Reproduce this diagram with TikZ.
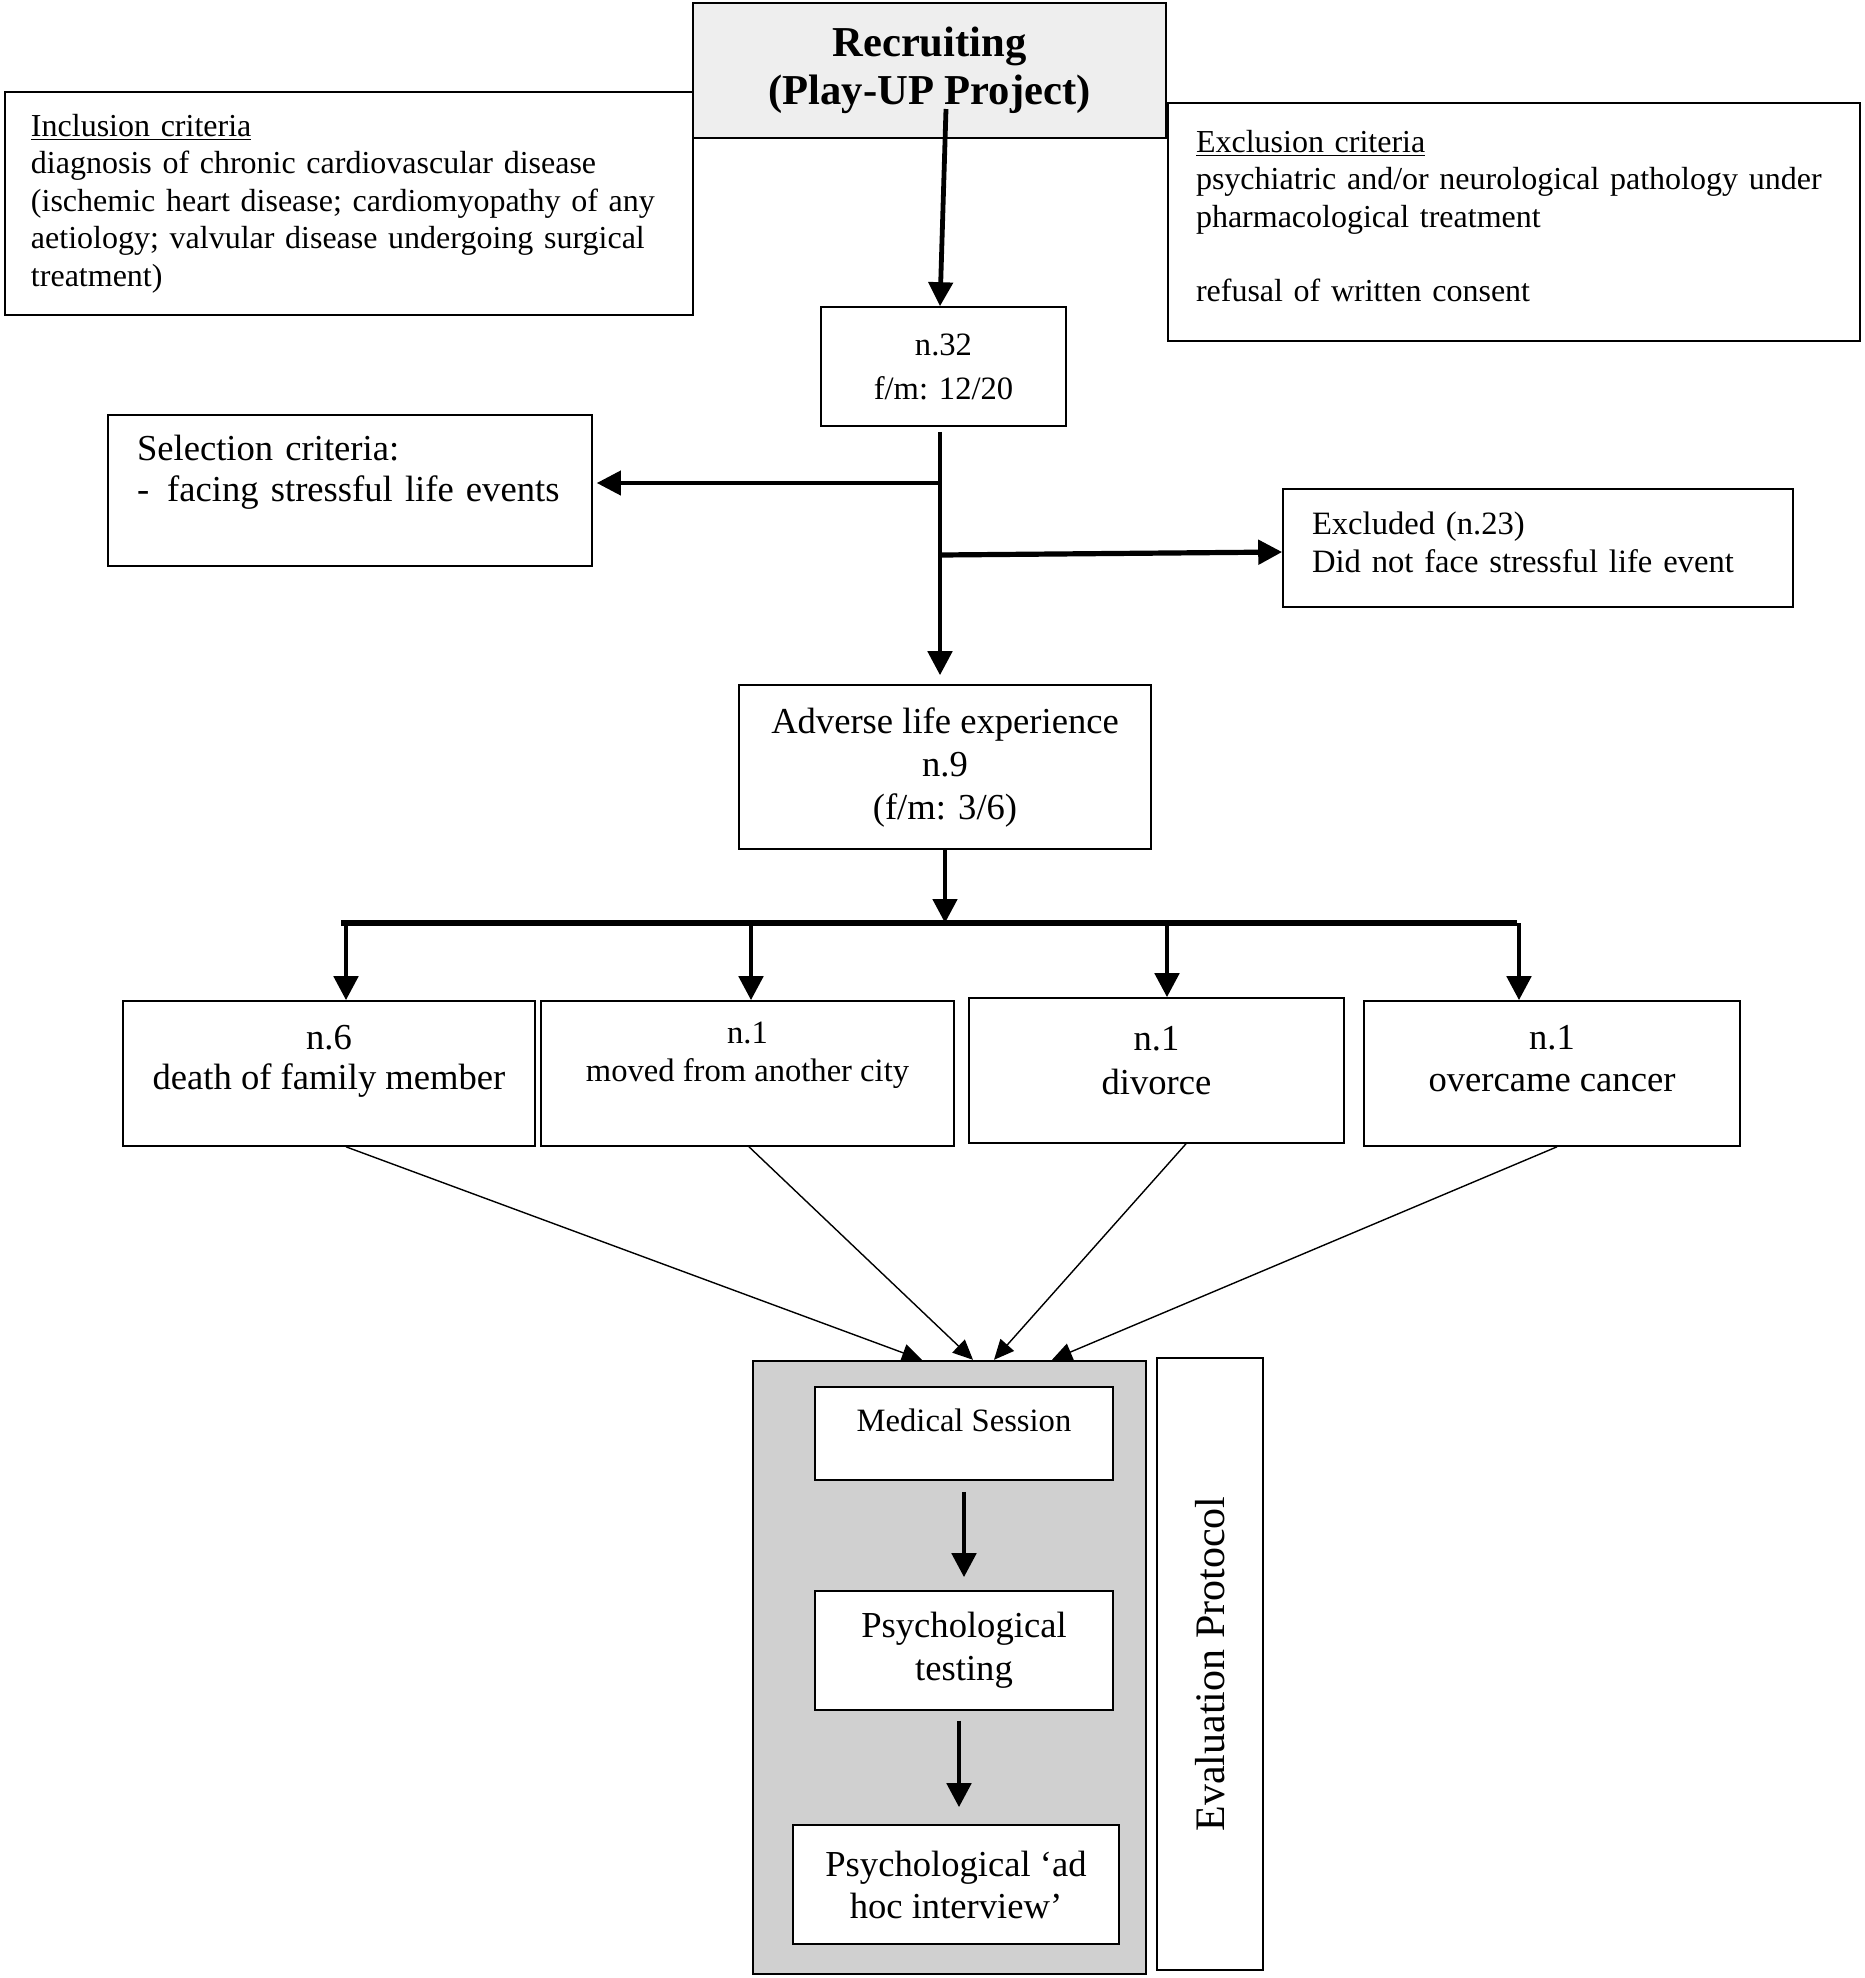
\documentclass[tikz,border=0pt]{standalone}
\usepackage{fontspec}
\setmainfont{Liberation Serif}
\usepackage{tikz}
\usetikzlibrary{arrows.meta}

\definecolor{recgrey}{HTML}{EEEEEE}
\definecolor{protogrey}{HTML}{D0D0D0}
\newcommand{\lift}[1]{\rule[-#1]{0pt}{#1}}

\tikzset{
	box/.style={draw, line width=0.8pt, fill=white, inner sep=0pt, align=center},
	fcrit/.style={font=\fontsize{16}{18.75}\selectfont},
	fsmall/.style={font=\fontsize{16.3}{#1}\selectfont}, fsmall/.default=18.75,
	flarge/.style={font=\fontsize{18.3}{#1}\selectfont}, flarge/.default=21.5,
	link/.style={line width=2.4pt, -{Triangle[length=12pt,width=12pt]}},
	thinlink/.style={line width=0.7pt, -{Triangle[length=10pt,width=9pt]}}
}

\begin{document}
\begin{tikzpicture}[x=0.5pt,y=-0.5pt]
		\path[use as bounding box, fill=white] (0,0) rectangle (1865,1978);
		
		% criteria and recruiting
		\node[box, fcrit, align=left, text width=318pt, inner xsep=13pt, minimum height=111.5pt] (incl) at (349,203.5) {\underline{Inclusion criteria}\\diagnosis of chronic cardiovascular disease\\(ischemic heart disease; cardiomyopathy of any\\aetiology; valvular disease undergoing surgical\\treatment)};
		\node[box, fcrit, align=left, text width=318pt, inner xsep=14pt, minimum height=119pt] (excl) at (1514,222) {\underline{Exclusion criteria}\\psychiatric and/or neurological pathology under\\pharmacological treatment\\[18.5pt]refusal of written consent\lift{6pt}};
		\node[box, fill=recgrey, minimum width=236.5pt, minimum height=67.5pt, font=\fontsize{21.3}{24}\selectfont\bfseries] (rec) at (929.5,70.5) {Recruiting\\(Play-UP Project)};
		
		\node[box, fsmall=22, minimum width=122.5pt, minimum height=59.5pt] (n32) at (943.5,366.5) {n.32\\f/m: 12/20};
		\node[box, flarge=20.5, align=left, text width=213pt, inner xsep=14.5pt, minimum height=75.5pt] (sel) at (350,490.5) {Selection criteria:\\-\hspace{9pt}facing stressful life events\lift{22pt}};
		\node[box, fsmall=19, align=left, text width=226pt, inner xsep=14.5pt, minimum height=59pt] (excd) at (1538,548) {Excluded (n.23)\\Did not face stressful life event\lift{6pt}};
		\node[box, flarge, minimum width=206pt, minimum height=82pt] (adv) at (945,767) {Adverse life experience\\n.9\\(f/m: 3/6)};
		
		% life events
		\node[box, flarge=20, minimum width=206pt, minimum height=72.5pt] (death) at (329,1073.5) {n.6\\death of family member\lift{16pt}};
		\node[box, fsmall=19, minimum width=206.5pt, minimum height=72.5pt] (moved) at (747.5,1073.5) {n.1\\moved from another city\lift{22pt}};
		\node[box, flarge=22, minimum width=187.5pt, minimum height=72.5pt] (divorce) at (1156.5,1070.5) {n.1\\divorce\lift{10pt}};
		\node[box, flarge=21, minimum width=188pt, minimum height=72.5pt] (cancer) at (1552,1073.5) {n.1\\overcame cancer\lift{15pt}};
		
		% evaluation protocol
		\node[draw, line width=1.2pt, fill=protogrey, minimum width=196.5pt, minimum height=306.5pt] (proto) at (949.5,1667.5) {};
		\node[draw, line width=0.8pt, rotate=90, minimum width=306pt, minimum height=53pt, font=\fontsize{21}{24}\selectfont] (eval) at (1210,1664) {Evaluation Protocol};
		\node[box, fsmall, minimum width=149pt, minimum height=46.5pt] (med) at (964,1433.5) {Medical Session\lift{13pt}};
		\node[box, flarge, minimum width=149pt, minimum height=59.5pt] (test) at (964,1650.5) {Psychological\\testing};
		\node[box, flarge=21, minimum width=163pt, minimum height=59.5pt] (adhoc) at (956,1884.5) {Psychological ‘ad\\hoc interview’};
		
		% connectors
		\coordinate (recout) at (946,109);
		\coordinate (jl) at (940,483);
		\coordinate (jr) at (940,555);
		\coordinate (barl) at (341,923);
		\coordinate (barr) at (1517,923);
		
		\draw[link] (recout) -- ([xshift=-1.75pt]n32.north);
		\draw[link, shorten <=2.5pt, shorten >=4.5pt] ([xshift=-1.75pt]n32.south) -- ([xshift=-2.5pt]adv.north);
		\draw[link, line width=2pt] (jl) -- ([xshift=2pt]jl -| sel.east);
		\draw[link, line width=2.6pt] (jr) -- ([yshift=1.5pt]jr -| excd.west);
		\draw[link] (adv.south) -- (adv.south |- barl);
		\draw[line width=2.7pt] (barl) -- (barr);
		\foreach \n/\x in {death/346,moved/751,divorce/1167,cancer/1519}{
			\coordinate (b\n) at (\x,923);
			\draw[link] (b\n) -- (b\n |- \n.north);
		}
		\foreach \n/\s/\e in {death/8.5/-13.75,moved/0.75/11.75,divorce/14.75/22.25,cancer/2.5/51.25}
			\draw[thinlink] ([xshift=\s pt]\n.south) -- ([xshift=\e pt]proto.north);
		
		\draw[link, shorten <=5.5pt, shorten >=6.5pt] (med.south) -- (test.north);
		\draw[link, shorten <=5pt, shorten >=8.5pt] ([xshift=-2.5pt]test.south) -- ([xshift=-2.5pt]test.south |- adhoc.north);
	\end{tikzpicture}
\end{document}
